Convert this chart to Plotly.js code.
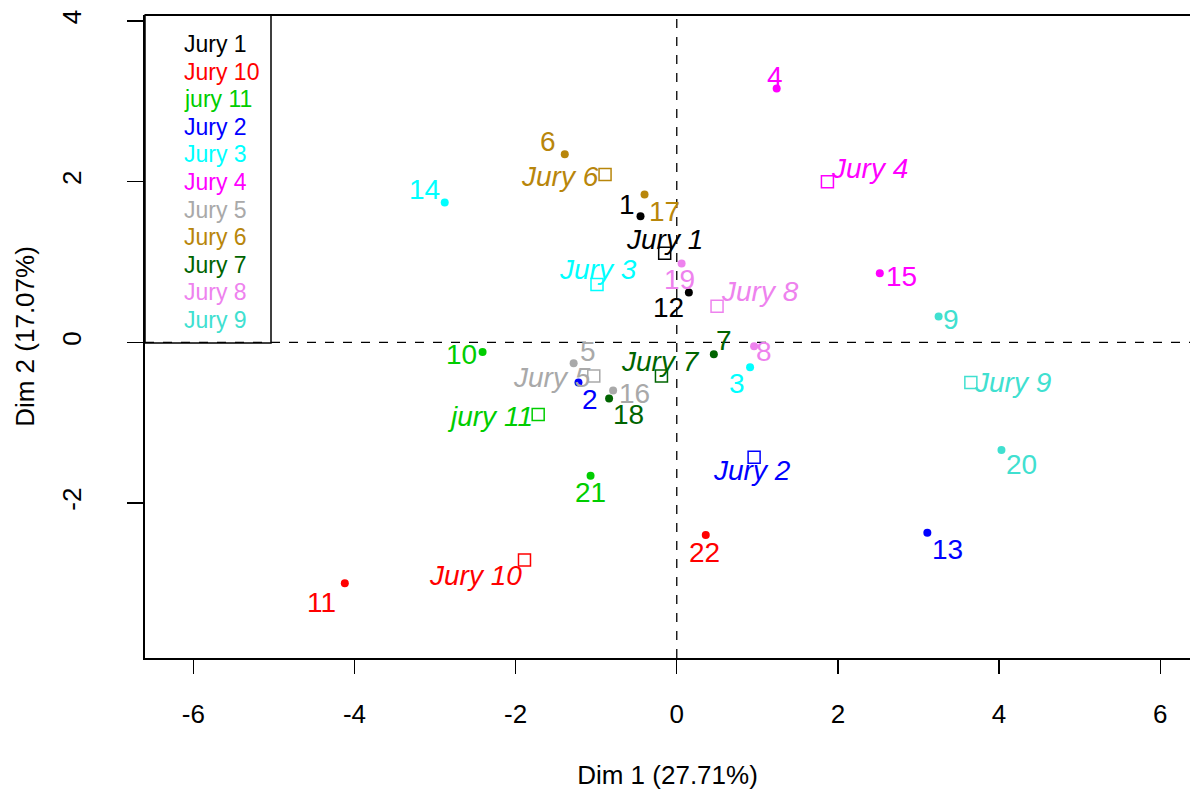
<!DOCTYPE html>
<html>
<head>
<meta charset="utf-8">
<script src="https://cdn.plot.ly/plotly-3.0.1.min.js"></script>
<style>html,body{margin:0;padding:0;background:#fff;}#chart{width:1190px;height:794px;}</style>
</head>
<body>
<div id="chart"></div>
<script>
// ---- data ----
const juryNames = ["Jury 1","Jury 10","jury 11","Jury 2","Jury 3","Jury 4","Jury 5","Jury 6","Jury 7","Jury 8","Jury 9"];
const juryColors = ["#000000","#FF0000","#00CD00","#0000FF","#00FFFF","#FF00FF","#A9A9A9","#B8860B","#006400","#EE82EE","#40E0D0"];
const juryX = [-0.15,-1.89,-1.72,0.96,-0.99,1.87,-1.03,-0.89,-0.19,0.50,3.65];
const juryY = [1.11,-2.71,-0.90,-1.43,0.72,2.00,-0.42,2.09,-0.42,0.45,-0.50];

const indLabels = ["1","2","3","4","5","6","7","8","9","10","11","12","13","14","15","16","17","18","19","20","21","22"];
const indX = [-0.45,-1.22,0.91,1.24,-1.28,-1.39,0.46,0.96,3.25,-2.41,-4.12,0.15,3.11,-2.88,2.52,-0.79,-0.40,-0.84,0.06,4.03,-1.07,0.36];
const indY = [1.57,-0.50,-0.31,3.16,-0.26,2.34,-0.15,-0.05,0.32,-0.12,-3.00,0.62,-2.37,1.74,0.86,-0.60,1.84,-0.70,0.98,-1.34,-1.66,-2.40];
const indJury = ["Jury 1","Jury 2","Jury 3","Jury 4","Jury 5","Jury 6","Jury 7","Jury 8","Jury 9","jury 11","Jury 10",
                 "Jury 1","Jury 2","Jury 3","Jury 4","Jury 5","Jury 6","Jury 7","Jury 8","Jury 9","jury 11","Jury 10"];

const xTicks = [-6,-4,-2,0,2,4,6];
const yTicks = [-2,0,2,4];
const xTitle = "Dim 1 (27.71%)";
const yTitle = "Dim 2 (17.07%)";

// ---- label placement (pixel offsets of each label from its mark; style only) ----
const indLabelShift = [[-14,12],[12,-17],[-13,-16],[-2,12],[14,12],[-17,13],[10,14],[10,-5],[12,-3],[-21,-3],[-23,-19],
                       [-20,-15],[20,-17],[-20,13],[22,-3],[21,-3],[20,-17],[19,-16],[-2,-16],[20,-15],[0,-17],[-1,-17]];
const juryLabelShift = [[0,14],[-49,-15],[-48,-2],[-2,-13],[1,15],[42,13],[-42,-1],[-45,-2],[-1,15],[43,15],[42,0]];

// ---- build ----
const FONT = "Liberation Sans, Arial, sans-serif";
const colorOf = j => juryColors[juryNames.indexOf(j)];
const indColors = indJury.map(colorOf);

const traces = [
  {
    type: "scatter", mode: "markers",
    x: indX, y: indY,
    marker: {symbol: "circle", size: 8, color: indColors},
    hoverinfo: "skip", cliponaxis: false, showlegend: false
  },
  {
    type: "scatter", mode: "markers",
    x: juryX, y: juryY,
    marker: {symbol: "square-open", size: 12, color: juryColors, line: {width: 1.5}},
    hoverinfo: "skip", cliponaxis: false, showlegend: false
  }
];

const indAnn = indLabels.map((t, i) => ({
  xref: "x", yref: "y", x: indX[i], y: indY[i],
  xshift: indLabelShift[i][0], yshift: indLabelShift[i][1],
  xanchor: "center", yanchor: "middle", showarrow: false, text: t,
  font: {family: FONT, size: 28, color: indColors[i]}
}));
const juryAnn = juryNames.map((t, i) => ({
  xref: "x", yref: "y", x: juryX[i], y: juryY[i],
  xshift: juryLabelShift[i][0], yshift: juryLabelShift[i][1],
  xanchor: "center", yanchor: "middle", showarrow: false, text: t,
  font: {family: FONT, size: 28, color: juryColors[i], style: "italic"}
}));

// legend built from the sorted jury names
const L = 145, T = 15, W = 1190, H = 794, R = 1190, B = 658;
const px = v => (v - L) / (R - L);
const pyf = v => (B - v) / (B - T);
const legendAnn = juryNames.map((n, i) => ({
  xref: "paper", yref: "paper",
  x: px(182), y: pyf(44 + i * 27.6),
  xanchor: "left", yanchor: "middle",
  text: n, showarrow: false,
  font: {family: FONT, size: 23, color: juryColors[i]}
}));

const shapes = [
  {type: "line", xref: "x", yref: "paper", x0: 0, x1: 0, y0: 0, y1: 1, line: {color: "#000", width: 1.3, dash: "dash"}},
  {type: "line", xref: "paper", yref: "y", x0: 0, x1: 1, y0: 0, y1: 0, line: {color: "#000", width: 1.3, dash: "dash"}},
  {type: "line", xref: "paper", yref: "paper", x0: 0, x1: 1, y0: 1, y1: 1, line: {color: "#000", width: 2}},
  {type: "rect", xref: "paper", yref: "paper", x0: 0, x1: px(271), y0: pyf(343), y1: 1, line: {color: "#000", width: 1.5}, fillcolor: "rgba(255,255,255,0)"}
];

const layout = {
  width: W, height: H,
  margin: {l: L, r: 0, t: T, b: H - B},
  paper_bgcolor: "#fff", plot_bgcolor: "#fff",
  font: {family: FONT, color: "#000"},
  showlegend: false,
  xaxis: {
    range: [-6.60, 6.37], tickvals: xTicks, ticktext: xTicks.map(String),
    showgrid: false, zeroline: false, showline: true, linecolor: "#000", linewidth: 2,
    ticks: "outside", ticklen: 14, tickwidth: 1.3, tickcolor: "#000",
    ticklabelstandoff: 18,
    tickfont: {family: FONT, size: 26, color: "#000"},
    title: {text: xTitle, font: {family: FONT, size: 26, color: "#000"}, standoff: 38}
  },
  yaxis: {
    range: [-3.93, 4.075], tickvals: yTicks, ticktext: yTicks.map(String),
    showgrid: false, zeroline: false, showline: true, linecolor: "#000", linewidth: 2,
    ticks: "outside", ticklen: 16, tickwidth: 1.3, tickcolor: "#000",
    tickangle: -90, ticklabelstandoff: 36,
    tickfont: {family: FONT, size: 26, color: "#000"},
    title: {text: yTitle, font: {family: FONT, size: 26, color: "#000"}, standoff: 14}
  },
  shapes: shapes,
  annotations: legendAnn.concat(indAnn, juryAnn)
};

Plotly.newPlot("chart", traces, layout, {staticPlot: true, displayModeBar: false});
</script>
</body>
</html>
